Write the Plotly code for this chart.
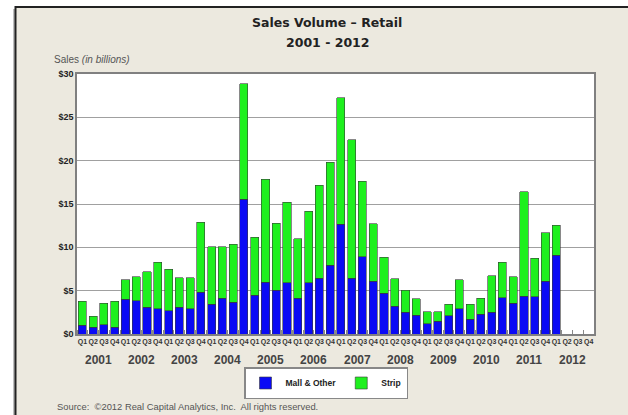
import plotly.graph_objects as go

quarters = ["Q1", "Q2", "Q3", "Q4"]
years = ["2001", "2002", "2003", "2004", "2005", "2006", "2007", "2008", "2009", "2010", "2011", "2012"]

mall_other = [1.00, 0.77, 1.08, 0.77,
              4.00, 3.84, 3.11, 2.92,
              2.69, 3.11, 2.92, 4.80,
              3.46, 4.11, 3.69, 15.57,
              4.50, 6.00, 5.03, 5.92,
              4.11, 5.92, 6.42, 7.92,
              12.64, 6.42, 8.91, 6.11,
              4.69, 3.19, 2.50, 2.19,
              1.19, 1.50, 2.11, 2.92,
              1.69, 2.27, 2.50, 4.19,
              3.57, 4.38, 4.30, 6.11,
              9.11, None, None, None]

strip = [2.77, 1.27, 2.45, 3.00,
         2.26, 2.76, 4.07, 5.38,
         4.80, 3.39, 3.58, 8.07,
         6.61, 5.96, 6.65, 13.30,
         6.69, 11.83, 7.77, 9.30,
         6.89, 8.22, 10.72, 11.91,
         14.60, 16.02, 8.69, 6.61,
         4.19, 3.19, 2.57, 1.88,
         1.35, 1.04, 1.31, 3.34,
         1.77, 1.88, 4.22, 4.11,
         3.03, 12.02, 4.46, 5.57,
         3.42, None, None, None]

n = len(years) * len(quarters)
xs = list(range(n))
qlabels = [q for _ in years for q in quarters]

W, H = 628, 415
L, R, T, B = 77, 34, 74, 81
pw, ph = W - L - R, H - T - B

def px_x(p):
    return (p - L) / pw

def px_y(p):
    return 1 - (p - T) / ph

fig = go.Figure()
fig.add_trace(go.Bar(x=xs, y=mall_other, name="<b>Mall & Other</b>",
                     marker=dict(color="#0A0AF5", line=dict(color="#3a3a3a", width=0.6))))
fig.add_trace(go.Bar(x=xs, y=strip, name="<b>Strip</b>",
                     marker=dict(color="#1EF01E", line=dict(color="#3a3a3a", width=0.6))))

shapes = [
    dict(type="rect", xref="paper", yref="paper", layer="below",
         x0=px_x(13), x1=px_x(660), y0=px_y(440), y1=px_y(9),
         fillcolor="rgba(0,0,0,0.25)", line=dict(width=0)),
    dict(type="rect", xref="paper", yref="paper", layer="below",
         x0=px_x(15.5), x1=px_x(660), y0=px_y(440), y1=px_y(7),
         fillcolor="#ECE9DF", line=dict(color="#222222", width=2)),
    dict(type="rect", xref="paper", yref="paper", layer="below",
         x0=0, x1=1, y0=0, y1=1, fillcolor="white", line=dict(width=0)),
]

annotations = [
    dict(text="<b>Sales Volume – Retail</b>", xref="paper", yref="paper",
         x=px_x(327), y=px_y(22), showarrow=False, xanchor="center", yanchor="middle",
         font=dict(size=12.5, color="#222222", family="DejaVu Sans, Verdana")),
    dict(text="<b>2001 - 2012</b>", xref="paper", yref="paper",
         x=px_x(327), y=px_y(43), showarrow=False, xanchor="center", yanchor="middle",
         font=dict(size=12.5, color="#222222", family="DejaVu Sans, Verdana")),
    dict(text="Sales <i>(in billions)</i>", xref="paper", yref="paper",
         x=px_x(52), y=px_y(59), showarrow=False, xanchor="left", yanchor="middle",
         font=dict(size=10, color="#555555", family="Liberation Sans, Arial")),
    dict(text="Source:  ©2012 Real Capital Analytics, Inc.  All rights reserved.", xref="paper", yref="paper",
         x=px_x(55), y=px_y(406), showarrow=False, xanchor="left", yanchor="middle",
         font=dict(size=9.4, color="#555555", family="Liberation Sans, Arial")),
]
for i, yr in enumerate(years):
    annotations.append(dict(text="<b>" + yr + "</b>", xref="x", yref="paper",
                            x=i * 4 + 1.5, y=px_y(360), showarrow=False,
                            xanchor="center", yanchor="middle",
                            font=dict(size=12, color="#444444", family="Liberation Sans, Arial")))

fig.update_layout(
    width=W, height=H,
    margin=dict(l=L, r=R, t=T, b=B, pad=0),
    barmode="stack", bargap=0.25,
    paper_bgcolor="white", plot_bgcolor="white",
    shapes=shapes, annotations=annotations,
    showlegend=True,
    legend=dict(orientation="h", x=px_x(326), y=px_y(383), xanchor="center", yanchor="middle",
                bgcolor="white", bordercolor="#888888", borderwidth=1.5,
                font=dict(size=8.5, color="#222222", family="Liberation Sans, Arial"),
                itemwidth=30, traceorder="normal", tracegroupgap=0),
    font=dict(family="Liberation Sans, Arial"),
)
fig.update_xaxes(range=[-0.5, n - 0.5], tickmode="array", tickvals=xs, ticktext=["<b>" + q + "</b>" for q in qlabels],
                 tickfont=dict(size=7, color="#333333"), ticks="", showgrid=False, zeroline=False,
                 showline=True, linecolor="#808080", linewidth=1.5, mirror=True, tickangle=0,
                 minor=dict(tickmode="linear", tick0=-0.5, dtick=1, ticks="inside", ticklen=4,
                            tickcolor="#888888", showgrid=False))
fig.update_yaxes(range=[0, 30], tickmode="array", tickvals=[0, 5, 10, 15, 20, 25, 30],
                 ticktext=["<b>$%d</b>" % v for v in [0, 5, 10, 15, 20, 25, 30]],
                 tickfont=dict(size=9, color="#222222"), showgrid=True, gridcolor="#A0A0A0", gridwidth=1.2,
                 zeroline=False, showline=True, linecolor="#808080", linewidth=1.5, mirror=True, ticks="")

fig.write_html("out.html", config={"displayModeBar": False},
               post_script="document.body.style.margin='0px';")
